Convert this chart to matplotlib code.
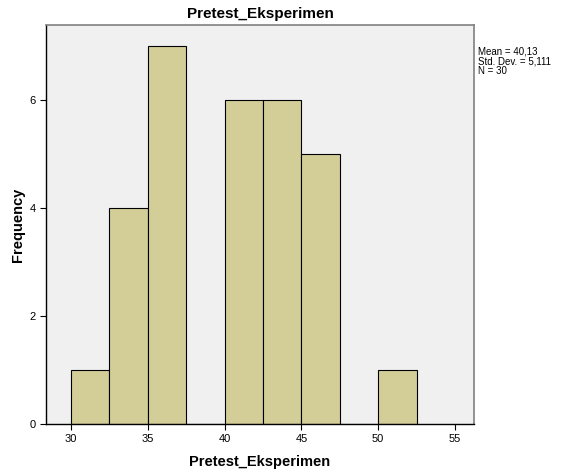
import matplotlib
matplotlib.use("Agg")
import matplotlib.pyplot as plt
import numpy as np

plt.rcParams['font.family'] = ['Liberation Sans', 'DejaVu Sans']

# histogram bins (width 2.5) and frequencies
bin_edges = [30, 32.5, 35, 37.5, 40, 42.5, 45, 47.5, 50, 52.5]
counts = [1, 4, 7, 0, 6, 6, 5, 0, 1]
x_ticks = [30, 35, 40, 45, 50, 55]
y_ticks = [0, 2, 4, 6]
stats_text = "Mean = 40,13\nStd. Dev. = 5,111\nN = 30"

fig = plt.figure(figsize=(5.66, 4.73), dpi=100)
ax = fig.add_axes([0.0813, 0.1036, 0.7562, 0.8434])
ax.set_facecolor('#F0F0F0')

lefts = np.array(bin_edges[:-1])
widths = np.diff(bin_edges)
ax.bar(lefts, counts, width=widths, align='edge', color='#D3CE98',
       edgecolor='black', linewidth=0.8)

ax.set_xlim(28.37, 56.24)
ax.set_ylim(0, 7.39)
ax.set_xticks(x_ticks)
ax.set_yticks(y_ticks)
ax.tick_params(axis='both', labelsize=8, length=4, width=0.8, direction='out')
ax.tick_params(axis='x', pad=3)

for side in ['top', 'right']:
    ax.spines[side].set_color('#808080')
    ax.spines[side].set_linewidth(1.2)
for side in ['left', 'bottom']:
    ax.spines[side].set_color('black')
    ax.spines[side].set_linewidth(1.0)

ax.set_title('Pretest_Eksperimen', fontsize=11, fontweight='bold', pad=5)
ax.set_xlabel('Pretest_Eksperimen', fontsize=10.5, fontweight='bold', labelpad=8)
ax.set_ylabel('Frequency', fontsize=10.5, fontweight='bold')
ax.yaxis.set_label_coords(-0.05, 0.5)

fig.text(0.845, 0.902, stats_text, fontsize=7, va='top', ha='left', linespacing=1.0)

fig.savefig('out.png', dpi=100)
